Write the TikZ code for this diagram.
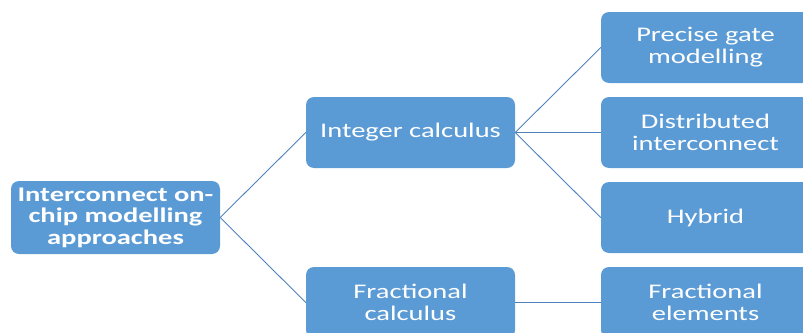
\documentclass[tikz,border=0pt]{standalone}
\usepackage{fontspec}
\setmainfont{Carlito}[FakeStretch=1.37]
\definecolor{boxblue}{HTML}{5B9BD5}
\definecolor{lineblue}{HTML}{4F81BD}
\begin{document}
\begin{tikzpicture}[x=1pt,y=-1pt,
  box/.style={draw=none,fill=boxblue,rounded corners=8pt,minimum width=209pt,minimum height=71pt,
    text=white,align=center,inner sep=0pt,font=\fontsize{20.8pt}{22pt}\selectfont},
  conn/.style={draw=lineblue,line width=0.9pt}]
\useasboundingbox (0,0) rectangle (803,332);
\clip (0,0) rectangle (803,332);
\node[box,minimum height=73pt,font=\fontsize{20.8pt}{21.5pt}\selectfont\bfseries] (root) at (115.5,217.5) {Interconnect on-\\chip modelling\\approaches};
\node[box] (int) at (410.5,132.5) {Integer calculus};
\node[box] (frac) at (410.5,302.5) {Fractional\\calculus};
\node[box] (pg) at (705.5,47.5) {Precise gate\\modelling};
\node[box] (dist) at (705.5,132.5) {Distributed\\interconnect};
\node[box] (hyb) at (705.5,217.5) {Hybrid};
\node[box] (fe) at (705.5,302.5) {Fractional\\elements};
\draw[conn] (root.east) -- (int.west);
\draw[conn] (root.east) -- (frac.west);
\draw[conn] (int.east) -- (pg.west);
\draw[conn] (int.east) -- (dist.west);
\draw[conn] (int.east) -- (hyb.west);
\draw[conn] (frac.east) -- (fe.west);
\end{tikzpicture}
\end{document}
